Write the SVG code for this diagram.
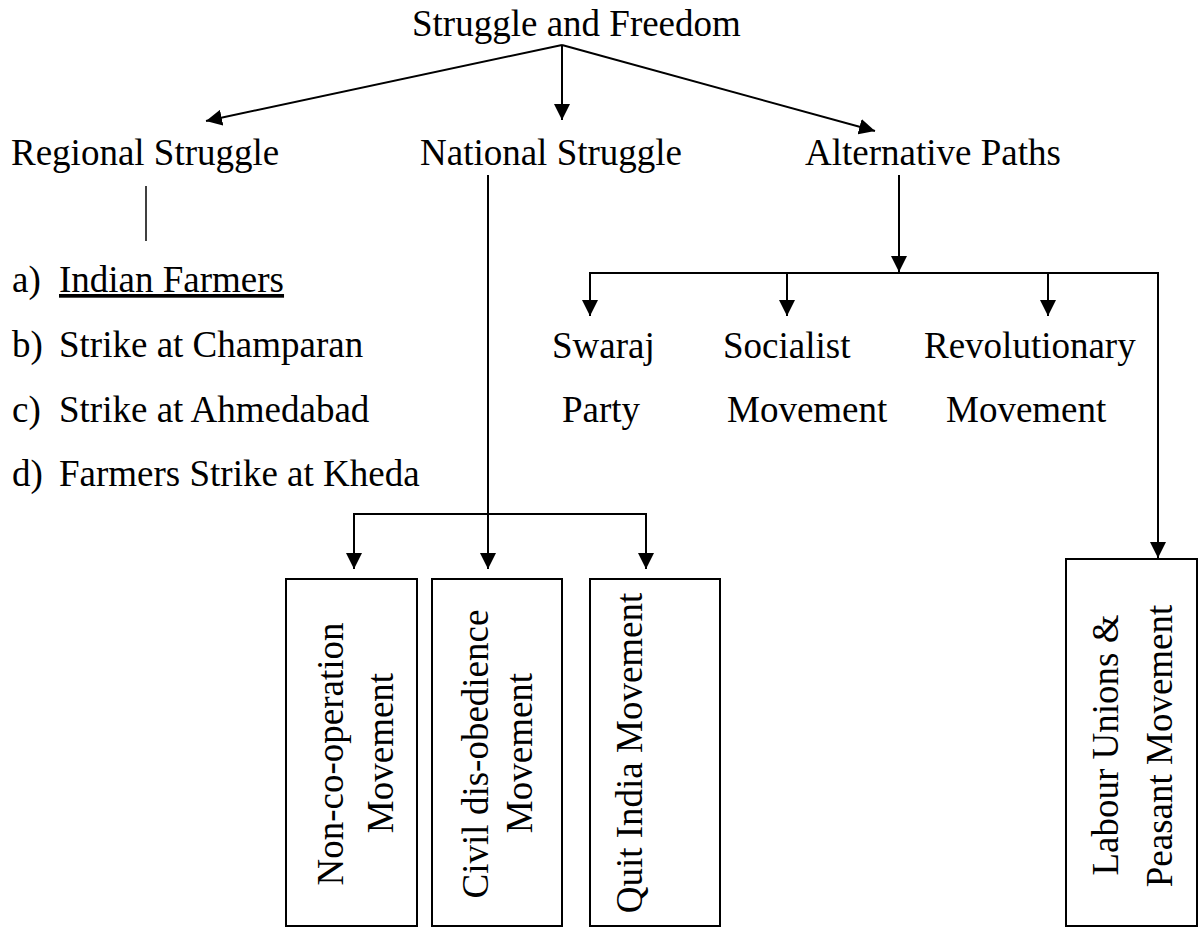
<svg xmlns="http://www.w3.org/2000/svg" width="1200" height="927" viewBox="0 0 1200 927" font-family="'Liberation Serif', 'Times New Roman', serif" font-size="37">
  <defs>
    <marker id="arrow" viewBox="0 0 16 16" refX="16" refY="8" markerWidth="16" markerHeight="16" markerUnits="userSpaceOnUse" orient="auto">
      <path d="M0,0 L16,8 L0,16 Z" fill="#000"/>
    </marker>
    <style>
      text { font-family: "Liberation Serif", "Times New Roman", serif; font-size: 37px; fill: #000; }
      .conn { fill: none; stroke: #000; stroke-width: 2; }
      .arr { marker-end: url(#arrow); }
      .thin { stroke-width: 1.5; }
      .box { fill: #fff; stroke: #000; stroke-width: 2; }
      .mid { text-anchor: middle; }
    </style>
  </defs>
  <rect x="0" y="0" width="1200" height="927" fill="#fff"/>

  <!-- connectors -->
  <g id="connectors">
    <!-- root fan-out -->
    <line class="conn arr" x1="562" y1="45" x2="206" y2="121"/>
    <line class="conn arr" x1="562" y1="45" x2="562" y2="120"/>
    <line class="conn arr" x1="562" y1="45" x2="875" y2="131"/>
    <!-- regional -->
    <line class="conn thin" x1="146" y1="186" x2="146" y2="241"/>
    <!-- national -->
    <line class="conn arr" x1="488" y1="175" x2="488" y2="569"/>
    <polyline class="conn arr" points="488,514 354,514 354,569"/>
    <polyline class="conn arr" points="488,514 646,514 646,569"/>
    <!-- alternative paths -->
    <line class="conn arr" x1="899" y1="175" x2="899" y2="272"/>
    <polyline class="conn arr" points="899,273 590,273 590,316"/>
    <line class="conn arr" x1="787" y1="273" x2="787" y2="316"/>
    <line class="conn arr" x1="1048" y1="273" x2="1048" y2="316"/>
    <polyline class="conn arr" points="899,273 1158,273 1158,558"/>
  </g>

  <g id="root">
    <text x="412" y="36">Struggle and Freedom</text>
  </g>

  <g id="regional">
    <text x="11" y="165">Regional Struggle</text>
  </g>
  <g id="regional-list">
    <text x="12" y="292">a)</text>
    <text x="59" y="292" text-decoration="underline">Indian Farmers</text>
    <text x="12" y="357">b)</text>
    <text x="59" y="357">Strike at Champaran</text>
    <text x="12" y="422">c)</text>
    <text x="59" y="422">Strike at Ahmedabad</text>
    <text x="12" y="486">d)</text>
    <text x="59" y="486">Farmers Strike at Kheda</text>
  </g>

  <g id="national">
    <text x="420" y="165">National Struggle</text>
  </g>

  <g id="alternative">
    <text x="805" y="165">Alternative Paths</text>
  </g>

  <g id="swaraj">
    <text x="552" y="358">Swaraj</text>
    <text x="562" y="422">Party</text>
  </g>
  <g id="socialist">
    <text x="723" y="358">Socialist</text>
    <text x="727" y="422">Movement</text>
  </g>
  <g id="revolutionary">
    <text x="924" y="358">Revolutionary</text>
    <text x="946" y="422">Movement</text>
  </g>

  <g id="non-cooperation">
    <rect class="box" x="286" y="579" width="131" height="347"/>
    <text class="mid" transform="translate(343,754) rotate(-90)">Non-co-operation</text>
    <text class="mid" transform="translate(393,753) rotate(-90)">Movement</text>
  </g>
  <g id="civil-disobedience">
    <rect class="box" x="432" y="579" width="130" height="347"/>
    <text class="mid" transform="translate(488,754) rotate(-90)">Civil dis-obedience</text>
    <text class="mid" transform="translate(532,753) rotate(-90)">Movement</text>
  </g>
  <g id="quit-india">
    <rect class="box" x="590" y="579" width="130" height="347"/>
    <text class="mid" transform="translate(642,753) rotate(-90)">Quit India Movement</text>
  </g>
  <g id="labour-peasant">
    <rect class="box" x="1066" y="559" width="131" height="367"/>
    <text class="mid" transform="translate(1118,745) rotate(-90)">Labour Unions &amp;</text>
    <text class="mid" transform="translate(1172,746) rotate(-90)">Peasant Movement</text>
  </g>
</svg>
